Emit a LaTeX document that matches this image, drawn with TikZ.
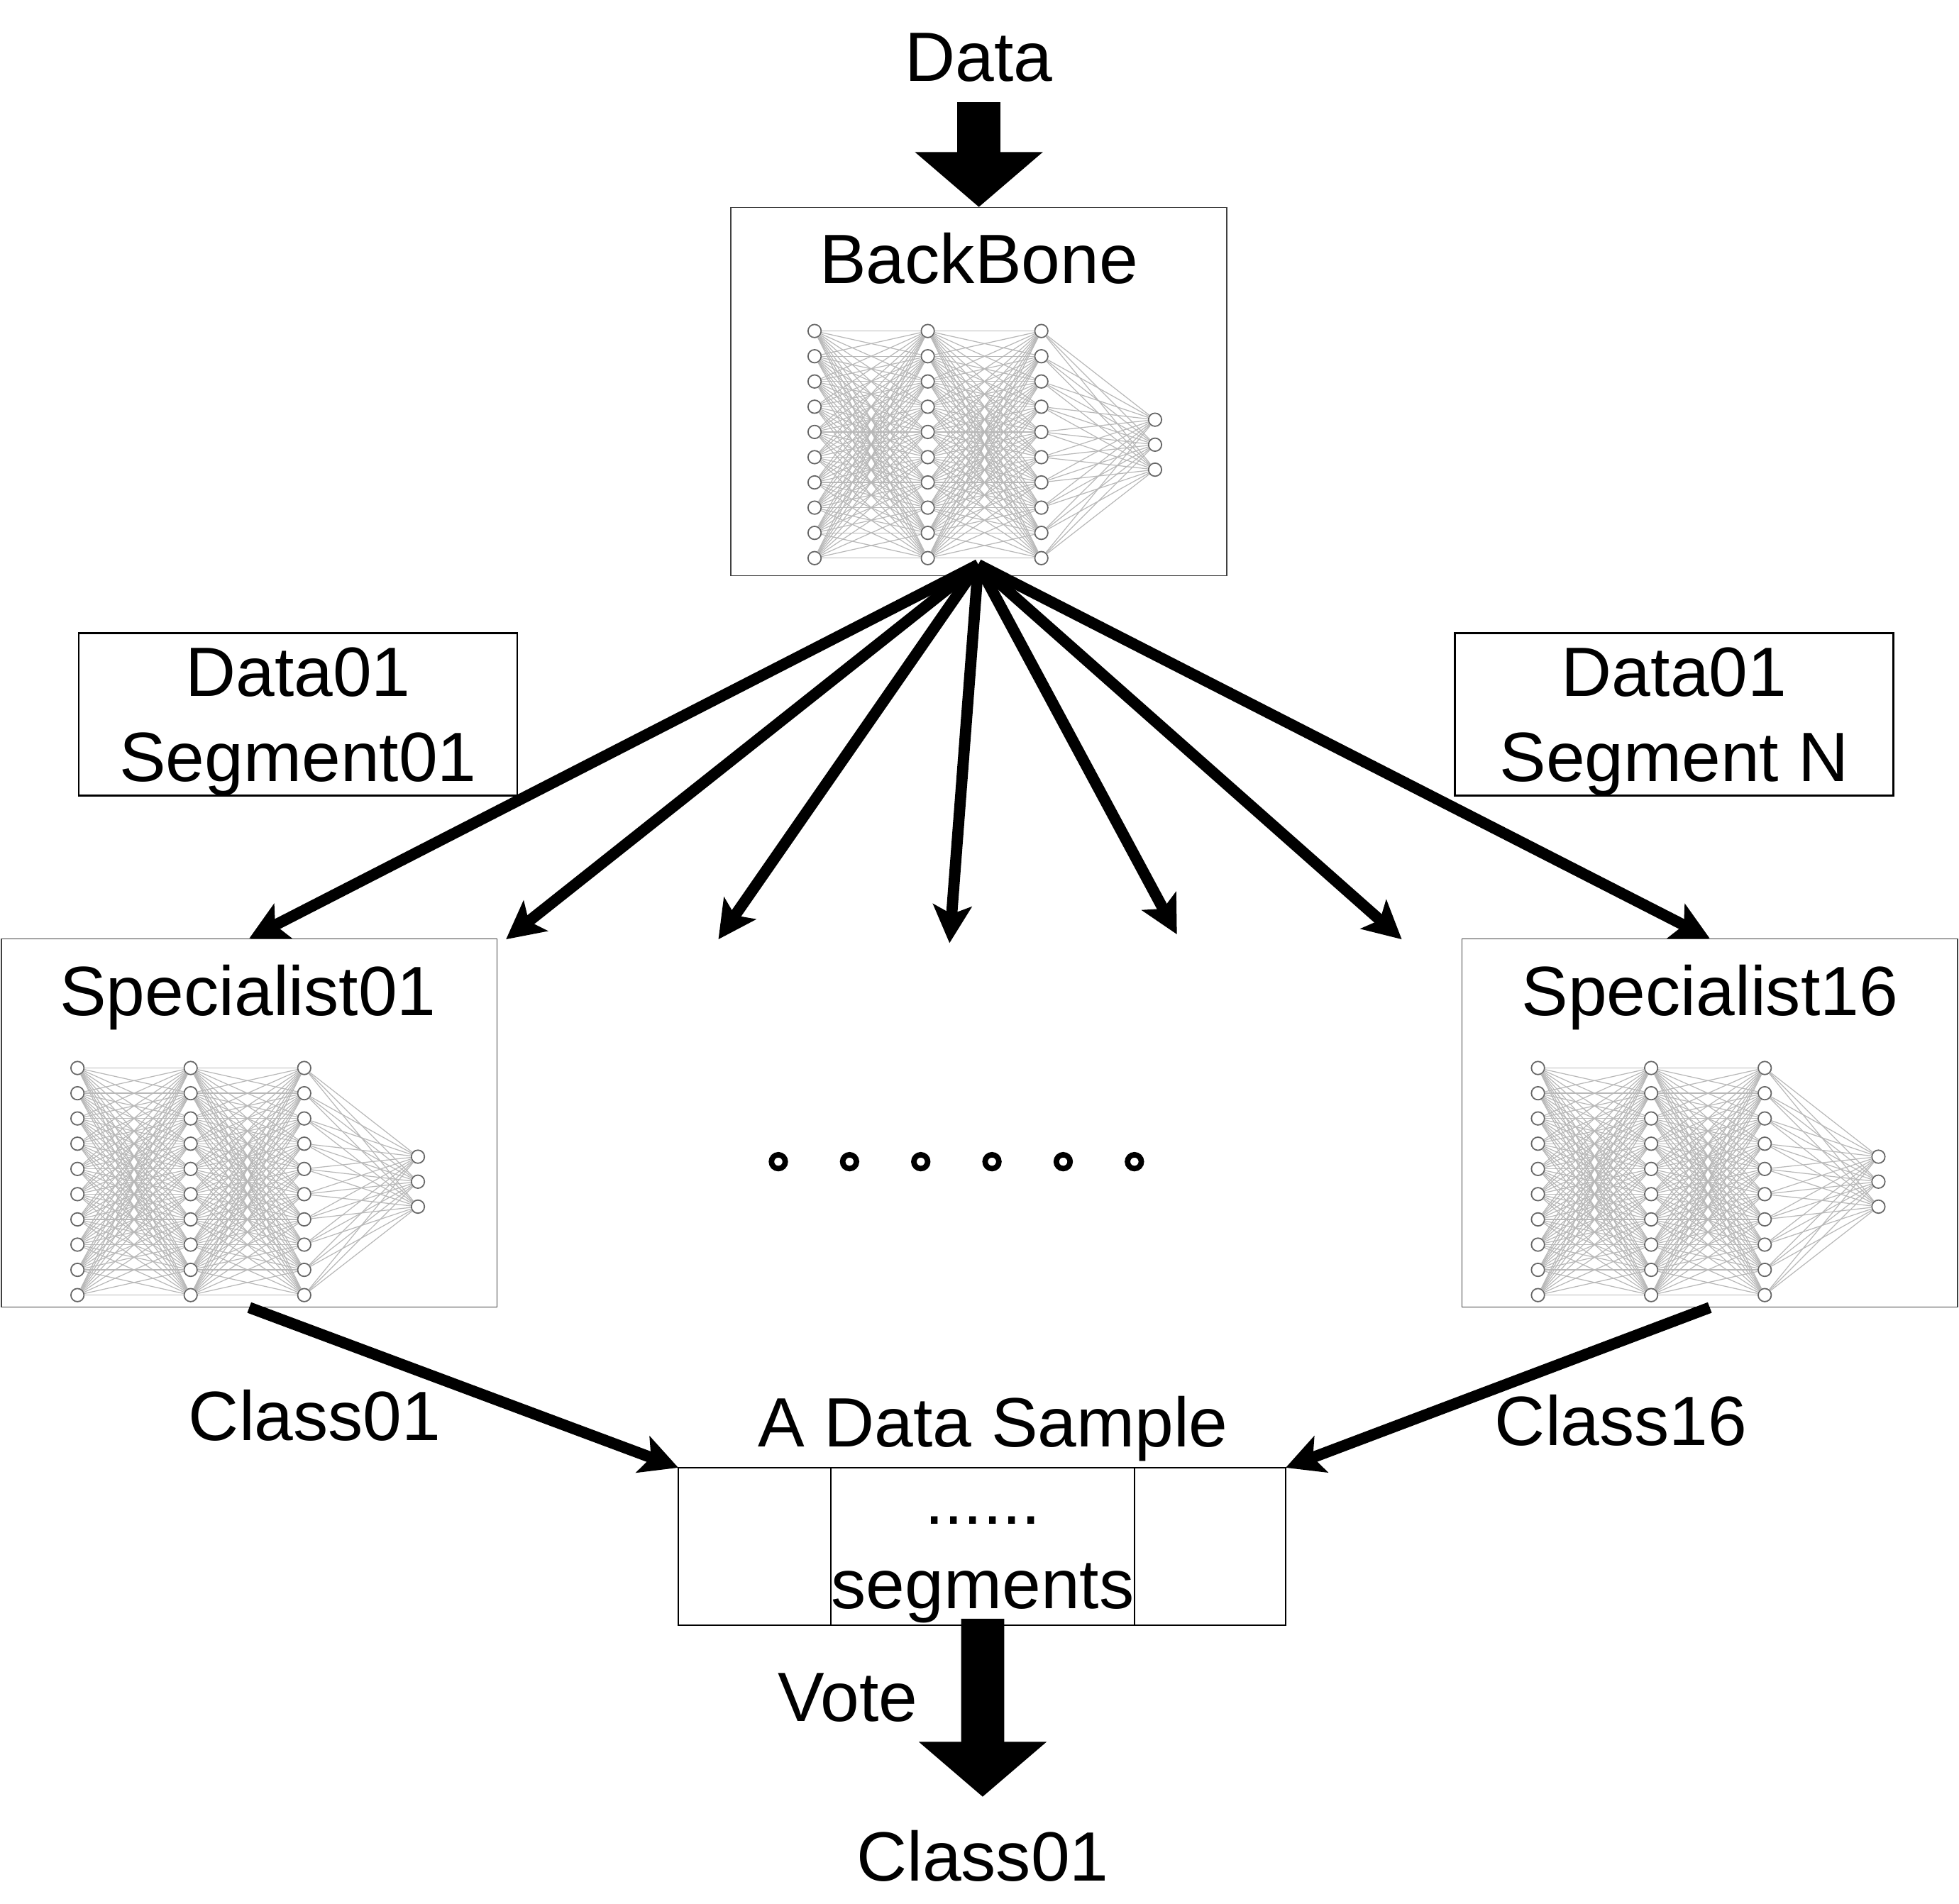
\documentclass[tikz,border=0pt]{standalone}
\usepackage{fontspec}
\setmainfont{Liberation Sans}
\usetikzlibrary{arrows.meta,positioning}

\tikzset{
  neuron/.style={circle,draw=black!60,fill=white,line width=0.5pt,minimum size=1.85mm,inner sep=0pt},
  wire/.style={black!28,line width=0.35pt},
  nnet/.pic={
    % three layers of 10, output layer of 3
    \foreach \l/\lx in {1/0,2/90.6,3/181.5}
      \foreach \i in {1,...,10}
        \node[neuron] (-\l-\i) at (\lx,{(\i-1)*20.2}) {};
    \foreach \i in {1,2,3}
      \node[neuron] (-4-\i) at (272.5,{71+(\i-1)*20}) {};
    \foreach \l/\m in {1/2,2/3}
      \foreach \i in {1,...,10}
        \foreach \j in {1,...,10}
          \draw[wire] (-\l-\i) -- (-\m-\j);
    \foreach \i in {1,...,10}
      \foreach \j in {1,2,3}
        \draw[wire] (-3-\i) -- (-4-\j);
  }
}

\begin{document}
\begin{tikzpicture}[x=0.1761mm,y=-0.1761mm,
  font=\fontsize{28}{34}\selectfont,
  txt/.style={inner sep=0pt,anchor=base},
  netbox/.style={draw=black!75,line width=0.4pt,minimum width=69.9mm,minimum height=51.9mm,inner sep=0pt},
  segbox/.style={draw=black,line width=0.8pt,minimum width=61.8mm,minimum height=22.9mm,align=center,text depth=0pt,inner sep=0pt},
  cell/.style={draw=black,line width=0.8pt,minimum height=22.2mm,inner sep=0pt,outer sep=0pt},
  feed/.style={line width=4.5pt,-{Stealth[length=5.3mm,width=5.4mm,inset=1.2mm]}},
  fat/.style={line width=6.07mm,-{Triangle[length=7.75mm,width=17.6mm]}},
  gapdot/.style={circle,draw,line width=2.2pt,minimum size=1.95mm,inner sep=0pt}]

\useasboundingbox (0,0) rectangle (1568,1524);

% backbone
\node[txt] (data) at (783.5,65) {Data};
\node[netbox] (bb) at (783.5,313.5) {};
\node[txt] (bbt) at (783.5,227) {BackBone};
\pic (bbn) at (652,265) {nnet};
\draw[fat,shorten <=2.8mm] (data) -- (bb);

% segment boxes
\node[segbox] (seg1) at (238.5,572) {Data01\\Segment01};
\node[segbox] (segn) at (1340,572) {Data01\\Segment N};

% specialists
\node[netbox] (s1) at (199.5,899) {};
\node[txt] (s1t) at (198.5,813) {Specialist01};
\pic (s1n) at (62,855) {nnet};
\node[netbox] (s16) at (1368.5,899) {};
\node[txt] (s16t) at (1368.5,813) {Specialist16};
\pic (s16n) at (1231,855) {nnet};

\foreach \k in {0,...,5}
  \node[gapdot] (gap\k) at ({623+57*\k},930) {};

% fan out
\coordinate (hub) at (783,452);
\coordinate (e2) at (405,752);
\coordinate (e3) at (575,752);
\coordinate (e4) at (760,755);
\coordinate (e5) at (942,748);
\coordinate (e6) at (1122,752);
\foreach \t in {s1.north,e2,e3,e4,e5,e6,s16.north}
  \draw[feed] (hub) -- (\t);

% data sample
\node[cell,minimum width=21.5mm] (c1) at (604,1238) {};
\node[cell,minimum width=42.8mm,right=0pt of c1,align=center,text depth=0pt,text height=50.1pt] (c2) {......\\segments};
\node[cell,minimum width=21.3mm,right=0pt of c2] (c3) {};
\node[txt] (smp) at (795,1158) {A Data Sample};

\draw[feed] (s1.south) -- (c1.north west);
\draw[feed] (s16.south) -- (c3.north east);
\node[txt] (cl1) at (252,1153) {Class01};
\node[txt] (cl16) at (1297.5,1157) {Class16};

% vote
\node[txt] (vote) at (678.5,1378) {Vote};
\node[txt] (out) at (786.5,1506) {Class01};
\draw[fat,shorten <=-0.9mm,shorten >=4.7mm] (c2) -- (out);
\end{tikzpicture}
\end{document}
